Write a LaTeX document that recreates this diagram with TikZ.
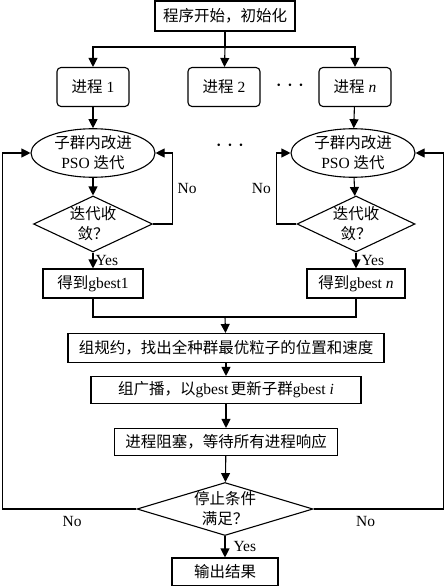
\documentclass[tikz,border=0pt]{standalone}
\usepackage{fontspec}
\setmainfont{Liberation Serif}
\newfontfamily\cjk{Noto Sans CJK SC}
\newcommand{\zh}[1]{{\cjk #1}}
\usepackage{tikz}
\usetikzlibrary{shapes.geometric,arrows.meta}

\tikzset{
  box/.style={draw, rectangle, inner sep=0pt, align=center},
  proc/.style={box, rounded corners=4pt, minimum width=72pt, minimum height=39pt},
  iter/.style={draw, ellipse, inner sep=0pt, align=center, minimum width=124pt, minimum height=46pt},
  check/.style={draw, diamond, inner sep=-3pt, align=center},
  more/.style={font=\fontsize{26}{26}\selectfont},
  arrow/.style={-{Triangle[length=9pt,width=9pt]}},
}

\begin{document}
\begin{tikzpicture}[x=1pt, y=-1pt, line width=1.1pt, font=\fontsize{15.5}{20}\selectfont]
    \useasboundingbox (0,0) rectangle (445,586);

    % 初始化与各进程
    \node[box, minimum width=140pt, minimum height=30pt] (init) at (225,16) {\zh{程序开始，初始化}};
    \node[proc] (proc1) at (93,87) {\zh{进程}~1};
    \node[proc] (proc2) at (224,87) {\zh{进程}~2};
    \node[proc] (procn) at (355,87) {\zh{进程}~\textit{n}};
    \node[more] (dots1) at (290,86) {$\cdots$};
    \coordinate (split) at (225,47);

    \draw (init) -- (split);
    \draw[arrow] (split) -| (proc1);
    \draw[arrow] (split) -- (proc2);
    \draw[arrow] (split) -| (procn);

    % 子群迭代
    \node[iter] (iter1) at (93,153) {\zh{子群内改进}\\PSO \zh{迭代}};
    \node[iter] (itern) at (353,153) {\zh{子群内改进}\\PSO \zh{迭代}};
    \node[more] (dots2) at (230,146) {$\cdots$};

    \node[check, aspect=2.1, minimum width=119pt, minimum height=56pt] (conv1) at (93,224) {\zh{迭代收}\\\zh{敛？}};
    \node[check, aspect=2.1, minimum width=118pt, minimum height=56pt] (convn) at (356,224) {\zh{迭代收}\\\zh{敛？}};

    \node[box, minimum width=100pt, minimum height=29pt] (best1) at (93,283.5) {\zh{得到}gbest1};
    \node[box, minimum width=98pt, minimum height=29pt] (bestn) at (356,283.5) {\zh{得到}gbest \textit{n}};

    \draw[arrow] (proc1) -- (iter1);
    \draw[arrow] (procn) -- (itern);
    \draw[arrow] (iter1) -- (conv1);
    \draw[arrow] (itern) -- (convn);
    \draw[arrow] (conv1) -- node[right, inner sep=2pt] {Yes} (best1);
    \draw[arrow] (convn) -- node[right, inner sep=5pt] {Yes} (bestn);
    \draw[arrow] (conv1.east) -- ++(19,0) |- (iter1.east) node[pos=0.25, right, inner sep=5pt] {No};
    \draw[arrow] (convn.west) -- ++(-20,0) |- (itern.west) node[pos=0.25, left, inner sep=5pt] {No};

    % 归约、广播、同步
    \coordinate (merge) at (225,317);
    \node[box, minimum width=316pt, minimum height=29pt] (reduce) at (226,348) {\zh{组规约，找出全种群最优粒子的位置和速度}};
    \node[box, minimum width=270pt, minimum height=27pt] (bcast) at (226,390) {\zh{组广播，以}gbest\,\zh{更新子群}gbest \textit{i}};
    \node[box, minimum width=223pt, minimum height=27pt] (wait) at (226,442) {\zh{进程阻塞，等待所有进程响应}};
    \node[check, aspect=3.3, minimum width=176pt, minimum height=53pt] (stop) at (225,509) {\zh{停止条件}\\\zh{满足？}};
    \node[box, minimum width=106pt, minimum height=28pt] (out) at (225,572) {\zh{输出结果}};

    \draw (best1) |- (merge);
    \draw (bestn) |- (merge);
    \draw[arrow] (merge) -- (reduce);
    \draw[arrow] (reduce) -- (bcast);
    \draw[arrow] (bcast) -- (wait);
    \draw[arrow] (wait) -- (stop);
    \draw[arrow] (stop) -- node[right, inner sep=8pt] {Yes} (out);

    % 外层循环
    \draw[arrow] (stop.west) -- node[pos=0.48, below, inner sep=7pt] {No} ++(-134,0) |- (iter1.west);
    \draw[arrow] (stop.east) -- node[pos=0.4, below, inner sep=7pt] {No} ++(130,0) |- (itern.east);
\end{tikzpicture}
\end{document}
